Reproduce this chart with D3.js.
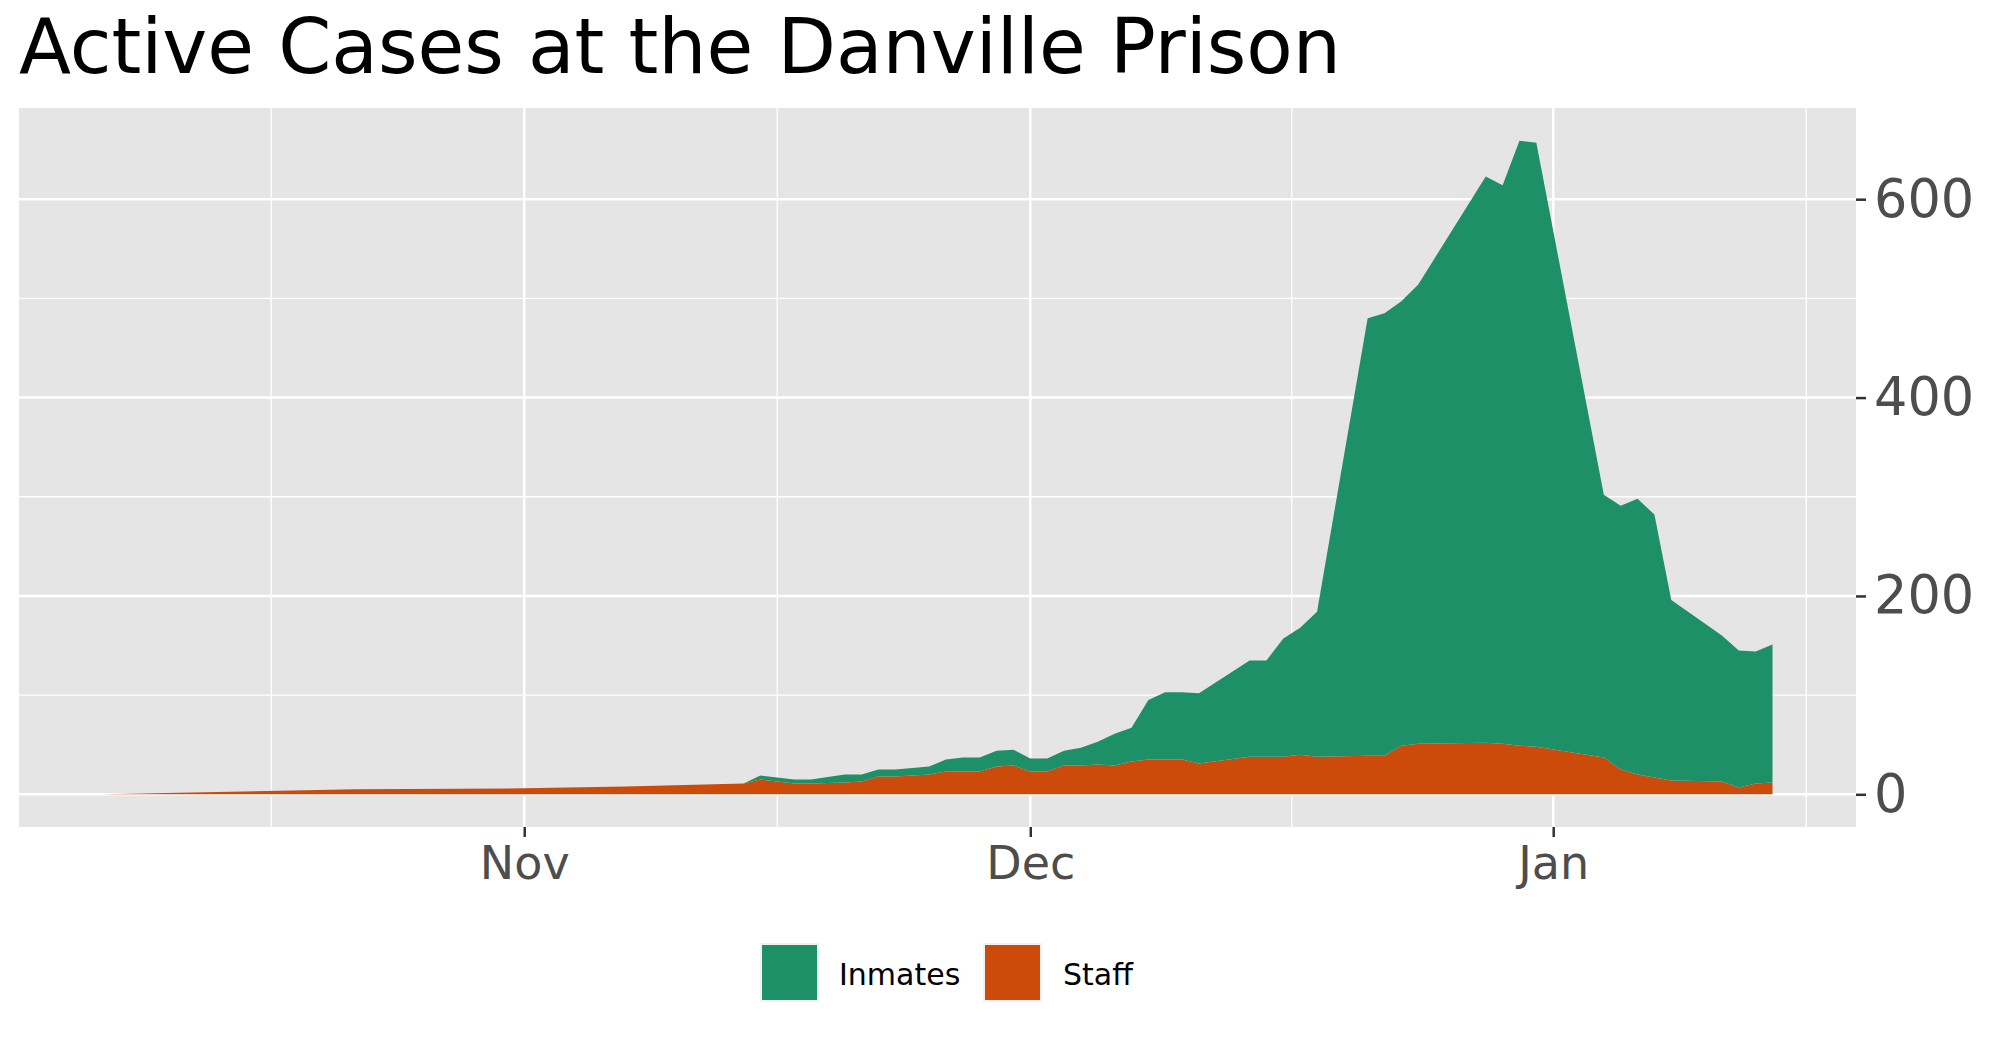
<!DOCTYPE html>
<html>
<head>
<meta charset="utf-8">
<script src="https://cdn.jsdelivr.net/npm/d3@7"></script>
<style>
  body { margin: 0; background: #fff; }
  svg { display: block; font-family: "DejaVu Sans", sans-serif; }
</style>
</head>
<body>
<div id="chart"></div>
<script>
// values
const dates = ["2020-10-07","2020-10-22","2020-11-01","2020-11-07","2020-11-14","2020-11-15","2020-11-16",
  "2020-11-17","2020-11-18","2020-11-20","2020-11-21","2020-11-22","2020-11-23","2020-11-25","2020-11-26",
  "2020-11-27","2020-11-28","2020-11-29","2020-11-30","2020-12-01","2020-12-02","2020-12-03","2020-12-04",
  "2020-12-05","2020-12-06","2020-12-07","2020-12-08","2020-12-09","2020-12-10","2020-12-11","2020-12-14",
  "2020-12-15","2020-12-16","2020-12-17","2020-12-18","2020-12-21","2020-12-22","2020-12-23","2020-12-24",
  "2020-12-28","2020-12-29","2020-12-30","2020-12-31","2021-01-04","2021-01-05","2021-01-06","2021-01-07",
  "2021-01-08","2021-01-11","2021-01-12","2021-01-13","2021-01-14"];
const inmates = [0,0,0,0,0,4,4,4,4,8,7,7,7,8,12,14,14,16,16,13,13,15,18,23,32,34,60,68,68,71,97,
  97,119,128,146,441,446,448,463,571,563,610,609,265,266,278,265,182,147,138,133,139];
const staff = [0,5,6,8,11,15,13,11,11,12,13,18,18,20,23,23,23,28,29,23,23,29,29,30,29,33,35,35,35,31,38,
  38,38,40,38,39,39,49,51,52,51,49,48,37,25,20,17,14,13,7,11,12];

const seriesNames = ["Inmates", "Staff"];
const seriesColors = ["#1D9068", "#CC4B0A"];
const yTicks = [0, 200, 400, 600];
const yMinor = [100, 300, 500];
const xTicks = ["2020-11-01", "2020-12-01", "2021-01-01"];
const xTickLabels = ["Nov", "Dec", "Jan"];
const xMinor = ["2020-10-17", "2020-11-16", "2020-12-16T12:00", "2021-01-16"];
const title = "Active Cases at the Danville Prison";

const W = 1991, H = 1041;
const panel = {left: 19, right: 1856, top: 108, bottom: 827};

const parse = s => new Date(s.length > 10 ? s + ":00Z" : s + "T00:00:00Z");

const rows = dates.map((d, i) => ({date: parse(d), Inmates: inmates[i], Staff: staff[i]}));

const svg = d3.select("#chart").append("svg")
  .attr("width", W).attr("height", H);

// ggplot style 5% expansion
const xExt = d3.extent(rows, d => d.date);
const xPad = (xExt[1] - xExt[0]) * 0.05;
const x = d3.scaleUtc()
  .domain([new Date(+xExt[0] - xPad), new Date(+xExt[1] + xPad)])
  .range([panel.left, panel.right]);

const yMax = d3.max(rows, d => d.Inmates + d.Staff);
const y = d3.scaleLinear()
  .domain([-yMax * 0.05, yMax * 1.05])
  .range([panel.bottom, panel.top]);

svg.append("text")
  .attr("x", 19).attr("y", 73)
  .attr("font-size", 76).attr("fill", "#000")
  .text(title);

svg.append("rect")
  .attr("x", panel.left).attr("y", panel.top)
  .attr("width", panel.right - panel.left).attr("height", panel.bottom - panel.top)
  .attr("fill", "#E5E5E5");

const grid = svg.append("g");
grid.selectAll(".ymin").data(yMinor).join("line")
  .attr("x1", panel.left).attr("x2", panel.right)
  .attr("y1", d => y(d)).attr("y2", d => y(d))
  .attr("stroke", "#fff").attr("stroke-width", 1.3);
grid.selectAll(".xmin").data(xMinor).join("line")
  .attr("x1", d => x(parse(d))).attr("x2", d => x(parse(d)))
  .attr("y1", panel.top).attr("y2", panel.bottom)
  .attr("stroke", "#fff").attr("stroke-width", 1.3);
grid.selectAll(".ymaj").data(yTicks).join("line")
  .attr("x1", panel.left).attr("x2", panel.right)
  .attr("y1", d => y(d)).attr("y2", d => y(d))
  .attr("stroke", "#fff").attr("stroke-width", 2.5);
grid.selectAll(".xmaj").data(xTicks).join("line")
  .attr("x1", d => x(parse(d))).attr("x2", d => x(parse(d)))
  .attr("y1", panel.top).attr("y2", panel.bottom)
  .attr("stroke", "#fff").attr("stroke-width", 2.5);

// stacked areas, staff at the bottom
const stack = d3.stack().keys(["Staff", "Inmates"]);
const layers = stack(rows);
const area = d3.area()
  .x(d => x(d.data.date))
  .y0(d => y(d[0]))
  .y1(d => y(d[1]));
const colorOf = d3.scaleOrdinal(seriesNames, seriesColors);

svg.append("g").selectAll("path").data(layers).join("path")
  .attr("d", area)
  .attr("fill", d => colorOf(d.key));

// right y axis
const yAxis = d3.axisRight(y).tickValues(yTicks).tickSize(10).tickPadding(8);
const gy = svg.append("g").attr("transform", `translate(${panel.right},0)`).call(yAxis);
gy.select(".domain").remove();
gy.selectAll(".tick line").attr("stroke", "#333").attr("stroke-width", 2.5);
gy.selectAll(".tick text").attr("font-size", 52.5).attr("fill", "#4D4D4D")
  .attr("font-family", "DejaVu Sans");

// bottom x axis
const xAxis = d3.axisBottom(x).tickValues(xTicks.map(parse))
  .tickFormat((d, i) => xTickLabels[i]).tickSize(10).tickPadding(9);
const gx = svg.append("g").attr("transform", `translate(0,${panel.bottom})`).call(xAxis);
gx.select(".domain").remove();
gx.selectAll(".tick line").attr("stroke", "#333").attr("stroke-width", 2.5);
gx.selectAll(".tick text").attr("font-size", 46).attr("fill", "#4D4D4D")
  .attr("font-family", "DejaVu Sans");

// legend
const legendItems = [
  {name: seriesNames[0], key: 762, text: 839},
  {name: seriesNames[1], key: 985, text: 1063}
];
const lg = svg.append("g");
legendItems.forEach(it => {
  lg.append("rect").attr("x", it.key - 2).attr("y", 943).attr("width", 59).attr("height", 59)
    .attr("fill", "#F2F2F2");
  lg.append("rect").attr("x", it.key).attr("y", 945).attr("width", 55).attr("height", 55)
    .attr("fill", colorOf(it.name));
  lg.append("text").attr("x", it.text).attr("y", 985)
    .attr("font-size", 30).attr("fill", "#000").text(it.name);
});
</script>
</body>
</html>
